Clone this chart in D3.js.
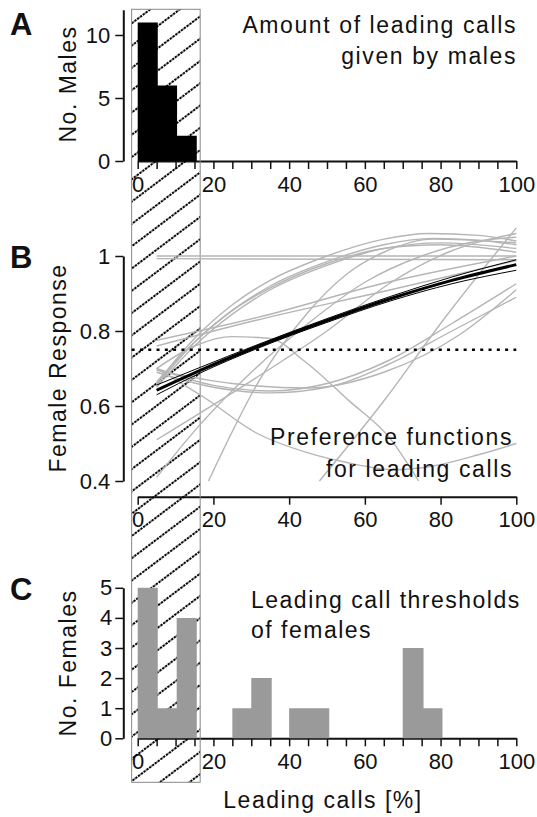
<!DOCTYPE html>
<html>
<head>
<meta charset="utf-8">
<title>leading calls</title>
<script src="https://d3js.org/d3.v7.min.js"></script>
<style>
  body { margin: 0; background: #fff; }
  text { font-family: "Liberation Sans", Arial, sans-serif; fill: #111; }
</style>
</head>
<body>
<svg width="537" height="817" id="mainsvg"></svg>
<script>
// ---- data ----
const xTicksMajor = [0, 20, 40, 60, 80, 100];

// A: males, histogram of leading calls
const maleBinStart = [0, 5.3, 10.4];
const maleBinEnd   = [5.3, 10.4, 15.6];
const maleCounts   = [11, 6, 2];

// C: female thresholds
const femaleBinStart = [0, 5.3, 10.3, 25, 30, 40, 45.2, 70, 75.5];
const femaleBinEnd   = [5.3, 10.3, 15.6, 30, 35.4, 45.2, 50.6, 75.5, 80.5];
const femaleCounts   = [5, 1, 4, 1, 2, 1, 1, 3, 1];

// B: mean preference function and its band
const meanX  = [5, 16.5, 31, 50, 66.7, 83, 100];
const meanY  = [0.642, 0.695, 0.756, 0.828, 0.886, 0.935, 0.977];
const upperY = [0.656, 0.703, 0.761, 0.833, 0.892, 0.944, 0.990];
const lowerY = [0.630, 0.688, 0.751, 0.823, 0.880, 0.926, 0.962];
const threshold = 0.75;

// B: individual preference functions [x, response]
const prefFunctions = [
  [[5, 1.0], [100, 1.0]],
  [[5, 0.993], [100, 0.99]],
  [[5, 0.66], [15, 0.78], [25, 0.87], [35, 0.935], [50, 1.0], [65, 1.045], [77, 1.06], [90, 1.055], [100, 1.04]],
  [[5, 0.655], [15, 0.77], [25, 0.855], [35, 0.92], [50, 0.985], [65, 1.03], [78, 1.047], [90, 1.042], [100, 1.03]],
  [[5, 0.65], [15, 0.76], [25, 0.845], [35, 0.91], [50, 0.975], [65, 1.02], [80, 1.035], [100, 1.02]],
  [[5, 0.665], [15, 0.77], [25, 0.855], [35, 0.915], [50, 0.98], [65, 1.02], [80, 1.03], [100, 1.01]],
  [[5, 0.775], [32, 0.837], [66, 0.93], [100, 1.0]],
  [[5, 0.76], [31, 0.828], [66, 0.908], [100, 0.988]],
  [[5, 0.51], [32, 0.68], [50, 0.80], [67, 0.93], [82, 1.01], [100, 1.06]],
  [[48, 0.40], [65.5, 0.62], [80, 0.82], [100, 1.075]],
  [[5, 0.41], [16, 0.545], [30, 0.69], [45, 0.82], [60, 0.93], [75, 1.0], [90, 1.04], [100, 1.05]],
  [[18.7, 0.40], [32.4, 0.673], [45, 0.85], [55, 0.95], [65, 1.01], [78, 1.045], [100, 1.035]],
  [[5, 0.70], [20, 0.655], [35, 0.64], [50, 0.66], [66, 0.72], [83, 0.82], [100, 0.926]],
  [[5, 0.69], [20, 0.65], [35, 0.635], [50, 0.65], [66, 0.71], [83, 0.80], [100, 0.89]],
  [[5, 0.695], [25, 0.66], [45, 0.648], [65, 0.69], [85, 0.79], [100, 0.91]],
  [[5, 0.70], [18, 0.62], [31, 0.53], [45, 0.475], [55, 0.45], [68, 0.43], [78, 0.44], [90, 0.47], [100, 0.50]],
  [[5, 0.70], [15, 0.76], [25, 0.785], [35, 0.78], [44, 0.72], [55.7, 0.615], [66.7, 0.513], [74.2, 0.40]]
];

const hatchRange = [-1.6, 16.5];

// ---- layout ----
const svg = d3.select('svg');
const axisX = 123.3;
const font = '"Liberation Sans", Arial, sans-serif';

const x = d3.scaleLinear().domain([0, 100]).range([137.7, 516.3]);
const yA = d3.scaleLinear().domain([0, 12]).range([161, 9.8]);
const yB = d3.scaleLinear().domain([0.4, 1]).range([481, 256]);
const yC = d3.scaleLinear().domain([0, 5]).range([738.3, 587.8]);

const minorTicks = d3.range(0, 101, 5);

function styleAxis(g) {
  g.select('.domain').attr('stroke', '#111').attr('stroke-width', 2);
  g.selectAll('.tick line').attr('stroke', '#111').attr('stroke-width', 1.5);
  g.selectAll('.tick text').attr('font-size', 22).attr('font-family', font).attr('fill', '#111');
}

// x axes
svg.append('g').attr('transform', `translate(0,${yA(0)})`)
  .call(d3.axisBottom(x).tickValues(minorTicks).tickFormat(d => d % 20 === 0 ? d : '')
    .tickSize(8).tickSizeOuter(0).tickPadding(7))
  .call(styleAxis);
svg.append('g').attr('transform', 'translate(0,496.7)')
  .call(d3.axisBottom(x).tickValues(xTicksMajor).tickSize(8).tickSizeOuter(0).tickPadding(7))
  .call(styleAxis);
svg.append('g').attr('transform', `translate(0,${yC(0)})`)
  .call(d3.axisBottom(x).tickValues(minorTicks).tickFormat(d => d % 20 === 0 ? d : '')
    .tickSize(8).tickSizeOuter(0).tickPadding(7))
  .call(styleAxis);

// y axes
svg.append('g').attr('transform', `translate(${axisX},0)`)
  .call(d3.axisLeft(yA).tickValues([0, 5, 10]).tickFormat(d => String(d))
    .tickSize(8).tickSizeOuter(0).tickPadding(5))
  .call(styleAxis);
svg.append('g').attr('transform', `translate(${axisX},0)`)
  .call(d3.axisLeft(yB).tickValues([0.4, 0.6, 0.8, 1]).tickFormat(d => String(d))
    .tickSize(8).tickSizeOuter(0).tickPadding(5))
  .call(styleAxis);
svg.append('g').attr('transform', `translate(${axisX},0)`)
  .call(d3.axisLeft(yC).tickValues([0, 1, 2, 3, 4, 5]).tickFormat(d => String(d))
    .tickSize(8).tickSizeOuter(0).tickPadding(3))
  .call(styleAxis);

// hatched region
const defs = svg.append('defs');
defs.append('pattern').attr('id', 'hatch')
  .attr('patternUnits', 'userSpaceOnUse')
  .attr('width', 42).attr('height', 17.8)
  .attr('patternTransform', 'rotate(-37)')
  .append('line')
  .attr('x1', 0).attr('y1', 8.9).attr('x2', 42).attr('y2', 8.9)
  .attr('stroke', '#000').attr('stroke-width', 1.9)
  .attr('stroke-dasharray', '2.5 1');

svg.append('rect')
  .attr('x', x(hatchRange[0])).attr('y', 9.3)
  .attr('width', x(hatchRange[1]) - x(hatchRange[0])).attr('height', 773)
  .attr('fill', 'url(#hatch)')
  .attr('stroke', '#888').attr('stroke-width', 1);

// histograms as one stepped outline each, so neighbouring bins have no seam
function stepPoints(starts, ends, counts) {
  const pts = [];
  counts.forEach((c, i) => {
    pts.push([starts[i], c]);
    if (i === counts.length - 1 || starts[i + 1] !== ends[i]) pts.push([ends[i], 0]);
  });
  return pts;
}
const areaA = d3.area().curve(d3.curveStepAfter)
  .x(d => x(d[0])).y0(yA(0)).y1(d => yA(d[1]));
svg.append('path')
  .attr('d', areaA(stepPoints(maleBinStart, maleBinEnd, maleCounts)))
  .attr('fill', '#000');

const areaC = d3.area().curve(d3.curveStepAfter)
  .x(d => x(d[0])).y0(yC(0)).y1(d => yC(d[1]));
svg.append('path')
  .attr('d', areaC(stepPoints(femaleBinStart, femaleBinEnd, femaleCounts)))
  .attr('fill', '#9a9a9a');

// B curves
const line = d3.line().x(d => x(d[0])).y(d => yB(d[1])).curve(d3.curveMonotoneX);
svg.append('g').selectAll('path').data(prefFunctions).enter().append('path')
  .attr('d', line)
  .attr('fill', 'none')
  .attr('stroke', '#b5b5b5')
  .attr('stroke-width', 1.4);

svg.append('line')
  .attr('x1', x(hatchRange[0])).attr('x2', x(100))
  .attr('y1', yB(threshold)).attr('y2', yB(threshold))
  .attr('stroke', '#000').attr('stroke-width', 2.6)
  .attr('stroke-dasharray', '3 5.3');

const band = [upperY, lowerY];
svg.append('g').selectAll('path').data(band).enter().append('path')
  .attr('d', ys => line(meanX.map((v, i) => [v, ys[i]])))
  .attr('fill', 'none').attr('stroke', '#000').attr('stroke-width', 1);
svg.append('path')
  .attr('d', line(meanX.map((v, i) => [v, meanY[i]])))
  .attr('fill', 'none').attr('stroke', '#000').attr('stroke-width', 3);

// texts
function addText(txt, px, py, anchor, size, weight, spacing) {
  svg.append('text').attr('x', px).attr('y', py)
    .attr('text-anchor', anchor).attr('font-size', size)
    .attr('font-weight', weight || 'normal')
    .attr('letter-spacing', spacing || 0)
    .text(txt);
}
addText('A', 10, 35, 'start', 31, 'bold');
addText('B', 10, 268, 'start', 31, 'bold');
addText('C', 10, 600, 'start', 31, 'bold');

addText('Amount of leading calls', 517, 33, 'end', 23, null, 1.6);
addText('given by males', 517, 64, 'end', 23, null, 1.6);
addText('Preference functions', 513, 445, 'end', 23, null, 1.6);
addText('for leading calls', 513, 477, 'end', 23, null, 1.6);
addText('Leading call thresholds', 251, 608, 'start', 23, null, 1.5);
addText('of females', 251, 638, 'start', 23, null, 1.5);
addText('Leading calls [%]', 323, 808, 'middle', 23, null, 1.5);

function yLabel(txt, px, py) {
  svg.append('text')
    .attr('transform', `translate(${px},${py}) rotate(-90)`)
    .attr('text-anchor', 'middle').attr('font-size', 23)
    .attr('letter-spacing', 1.5)
    .text(txt);
}
yLabel('No. Males', 76, 84);
yLabel('Female Response', 66, 368);
yLabel('No. Females', 76, 663);
</script>
</body>
</html>
